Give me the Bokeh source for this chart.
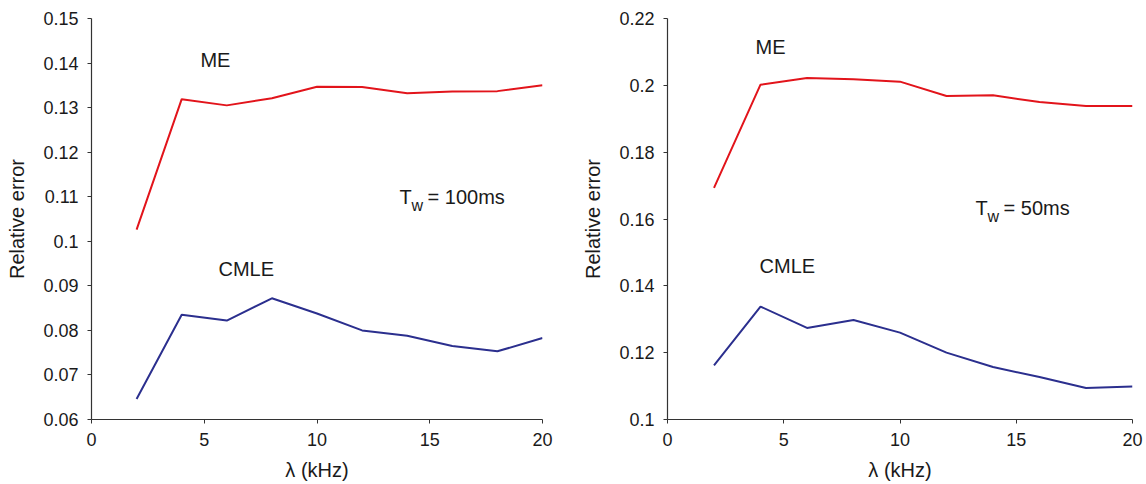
from bokeh.plotting import figure
from bokeh.layouts import row
from bokeh.models import FixedTicker, CustomJSTickFormatter, Range1d
from bokeh.core.properties import value
from bokeh.embed import file_html
from bokeh.resources import INLINE

# ---- data ----
lam = [2, 4, 6, 8, 10, 12, 14, 16, 18, 20]

me_100 = [0.1026, 0.1319, 0.1305, 0.1321, 0.1347, 0.1346, 0.1332, 0.1336, 0.1337, 0.1350]
cmle_100 = [0.0646, 0.0835, 0.0822, 0.0872, 0.0838, 0.0800, 0.0788, 0.0765, 0.0753, 0.0783]

me_50 = [0.1693, 0.2002, 0.2022, 0.2018, 0.2011, 0.1968, 0.1970, 0.1950, 0.1938, 0.1938]
cmle_50 = [0.1162, 0.1338, 0.1274, 0.1298, 0.1260, 0.1200, 0.1157, 0.1127, 0.1094, 0.1099]

x_ticks = [0, 5, 10, 15, 20]
y_ticks_100 = [0.06, 0.07, 0.08, 0.09, 0.10, 0.11, 0.12, 0.13, 0.14, 0.15]
y_ticks_50 = [0.10, 0.12, 0.14, 0.16, 0.18, 0.20, 0.22]

x_label = "λ (kHz)"
y_label = "Relative error"
tw_values = ["100ms", "50ms"]

# annotation anchors (data coords)
ann_100 = {"ME": (4.83, 0.1407), "CMLE": (5.63, 0.0937), "T": (13.66, 0.1100)}
ann_50 = {"ME": (3.79, 0.2116), "CMLE": (3.96, 0.1460), "T": (13.25, 0.1633)}

RED = "#e2141b"
BLUE = "#2b2f8e"
FONT = "Liberation Sans"
TXT = "#1a1a1a"

fmt = CustomJSTickFormatter(code="return String(parseFloat(tick.toFixed(4)));")


def make_fig(ylo, yhi, yticks, me, cmle, ann, tw, border_left, frame_w, border_right, border_top, border_bottom):
    p = figure(width=border_left + frame_w + border_right, height=484,
               x_range=Range1d(0, 20), y_range=Range1d(ylo, yhi),
               output_backend="svg", toolbar_location=None,
               min_border_left=border_left, min_border_right=border_right,
               min_border_top=border_top, min_border_bottom=border_bottom)
    p.outline_line_color = None
    p.grid.visible = False
    p.background_fill_color = "white"
    p.border_fill_color = "white"

    for ax in (p.xaxis, p.yaxis):
        ax.axis_line_color = "#333333"
        ax.axis_line_width = 1.2
        ax.major_tick_line_color = "#333333"
        ax.major_tick_in = 0
        ax.major_tick_out = 4
        ax.minor_tick_line_color = None
        ax.major_label_text_font = FONT
        ax.major_label_text_font_size = "18px"
        ax.major_label_text_color = TXT
        ax.axis_label_text_font = FONT
        ax.axis_label_text_font_size = "20px"
        ax.axis_label_text_font_style = "normal"
        ax.axis_label_text_color = TXT

    p.xaxis.ticker = FixedTicker(ticks=x_ticks)
    p.yaxis.ticker = FixedTicker(ticks=yticks)
    p.xaxis.formatter = fmt
    p.yaxis.formatter = fmt
    p.xaxis.major_label_standoff = 9
    p.yaxis.major_label_standoff = 9
    p.xaxis.axis_label = x_label
    p.yaxis.axis_label = y_label
    p.xaxis.axis_label_standoff = 10
    p.yaxis.axis_label_standoff = 12

    p.line(lam, me, line_color=RED, line_width=2)
    p.line(lam, cmle, line_color=BLUE, line_width=2)

    common = dict(text_font=value(FONT), text_color=TXT, text_align="left", text_baseline="middle")
    p.text(x=[ann["ME"][0]], y=[ann["ME"][1]], text=["ME"], text_font_size="20px", **common)
    p.text(x=[ann["CMLE"][0]], y=[ann["CMLE"][1]], text=["CMLE"], text_font_size="20px", **common)
    tx, ty = ann["T"]
    p.text(x=[tx], y=[ty], text=["T"], text_font_size="20px", **common)
    p.text(x=[tx], y=[ty], text=["w"], text_font_size="16px", x_offset=12, y_offset=9, **common)
    p.text(x=[tx], y=[ty], text=["= " + tw], text_font_size="20px", x_offset=28, **common)
    return p


p1 = make_fig(0.06, 0.15, y_ticks_100, me_100, cmle_100, ann_100, tw_values[0],
              91, 451, 31, 18, 63)
p2 = make_fig(0.10, 0.22, y_ticks_50, me_50, cmle_50, ann_50, tw_values[1],
              94, 465, 14, 17, 65)

layout = row(p1, p2)
open("out.html", "w").write(file_html(layout, INLINE))
